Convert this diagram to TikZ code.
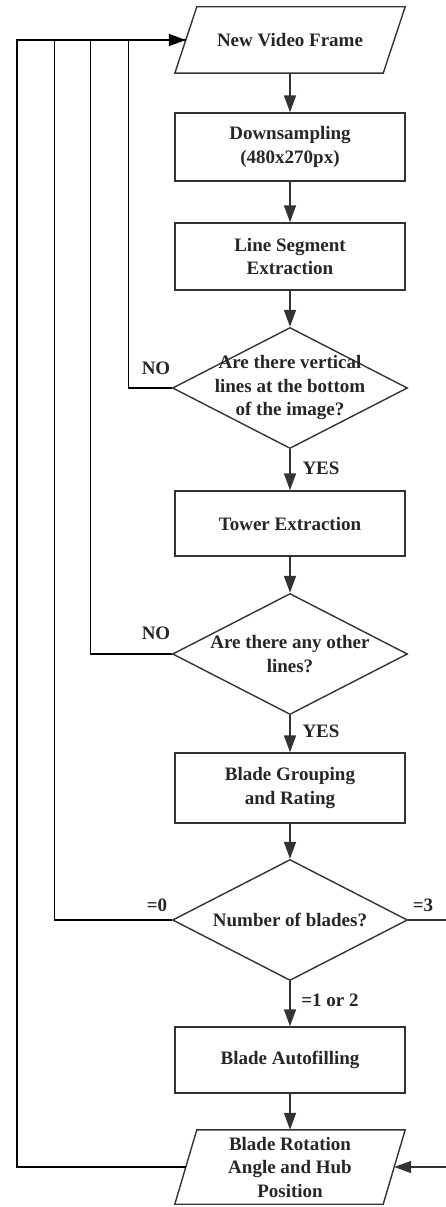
\documentclass[tikz,border=0pt]{standalone}
\usepackage{fontspec}
\setmainfont{Liberation Serif}
\usepackage{tikz}
\usetikzlibrary{calc, shapes.geometric, arrows.meta}

\begin{document}
\begin{tikzpicture}[x=1pt,y=1pt]
\tikzstyle{line} = [draw=black!80, line width=1.6pt, -{Triangle[length=17pt,width=12pt]}]
\tikzstyle{back} = [draw=black, line width=1.6pt]
\tikzstyle{border} = [draw=black!80, line width=1.4pt, line join=miter]
\tikzstyle{block}=[rectangle,draw=black!80,line width=1.4pt,minimum width=230pt,inner sep=2pt,align=center,text=black!85,font=\fontsize{19}{23.5}\selectfont\bfseries]
\tikzstyle{io}=[rectangle,minimum width=208pt,inner sep=0pt,align=center,text=black!85,font=\fontsize{19}{23.5}\selectfont\bfseries]
\tikzstyle{decision}=[diamond,draw=black!80,line width=1.4pt,minimum width=235pt,minimum height=121pt,inner sep=0pt]
\tikzstyle{dtext}=[align=center,text=black!85,font=\fontsize{19}{23.5}\selectfont\bfseries]
\tikzstyle{lbl}=[text=black!85,inner sep=0pt,font=\fontsize{19}{22}\selectfont\bfseries]
\useasboundingbox (0,0) rectangle (445,-1207);
\node[io,minimum height=66pt] (F_0) at (290,-40) {New Video Frame};
\node[block,minimum height=68pt] (F_1) at (290,-147) {Downsampling\\(480x270px)};
\node[block,minimum height=67pt] (F_2) at (290,-256.5) {Line Segment\\Extraction};
\node[decision,label={[dtext]center:{Are there vertical\\lines at the bottom\\of the image?}}] (D_1) at (290,-388) {};
\node[block,minimum height=65pt] (F_3) at (290,-523.5) {Tower Extraction};
\node[decision,label={[dtext]center:{Are there any other\\lines?}}] (D_2) at (290,-654) {};
\node[block,minimum height=70pt] (F_4) at (290,-788) {Blade Grouping\\and Rating};
\node[decision,label={[dtext]center:{Number of blades?}}] (D_3) at (290,-920) {};
\node[block,minimum height=66pt] (F_5) at (290,-1060) {Blade Autofilling};
\node[io,minimum height=74pt] (F_6) at (290,-1167) {Blade Rotation\\Angle and Hub\\Position};
% slanted outlines of the input/output steps
\foreach \n in {F_0,F_6}
  \path [border] ([xshift=-11pt]\n.south west) -- ([xshift=11pt]\n.north west)
    -- ([xshift=11pt]\n.north east) -- ([xshift=-11pt]\n.south east) -- cycle;
% branch labels
\node[lbl] (L_1) at (156,-368) {NO};
\node[lbl] (L_2) at (321,-468) {YES};
\node[lbl] (L_3) at (156,-633) {NO};
\node[lbl] (L_4) at (321,-731) {YES};
\node[lbl] (L_5) at (157,-905) {=0};
\node[lbl] (L_6) at (423,-905) {=3};
\node[lbl] (L_7) at (330,-1000) {=1 or 2};
% main flow
\path [line] (F_0) -- (F_1);
\path [line] (F_1) -- (F_2);
\path [line] (F_2) -- (D_1);
\path [line] (D_1) -- (F_3);
\path [line] (F_3) -- (D_2);
\path [line] (D_2) -- (F_4);
\path [line] (F_4) -- (D_3);
\path [line] (D_3) -- (F_5);
\path [line] (F_5) -- (F_6);
% loops back to the next frame
\path [back] (D_1.west) -- ++(-43.5,0) |- (F_0.west);
\path [back] (D_2.west) -- ++(-81.5,0) |- (F_0.west);
\path [back] (D_3.west) -- ++(-117.5,0) |- (F_0.west);
\path [back] (F_6.west) -| (17,-40) -- (F_0.west);
\path [line,draw=black] (17,-40) -- (F_0.west);
\path [line] (D_3.east) -- ++(40,0) |- (F_6.east);
\end{tikzpicture}
\end{document}
